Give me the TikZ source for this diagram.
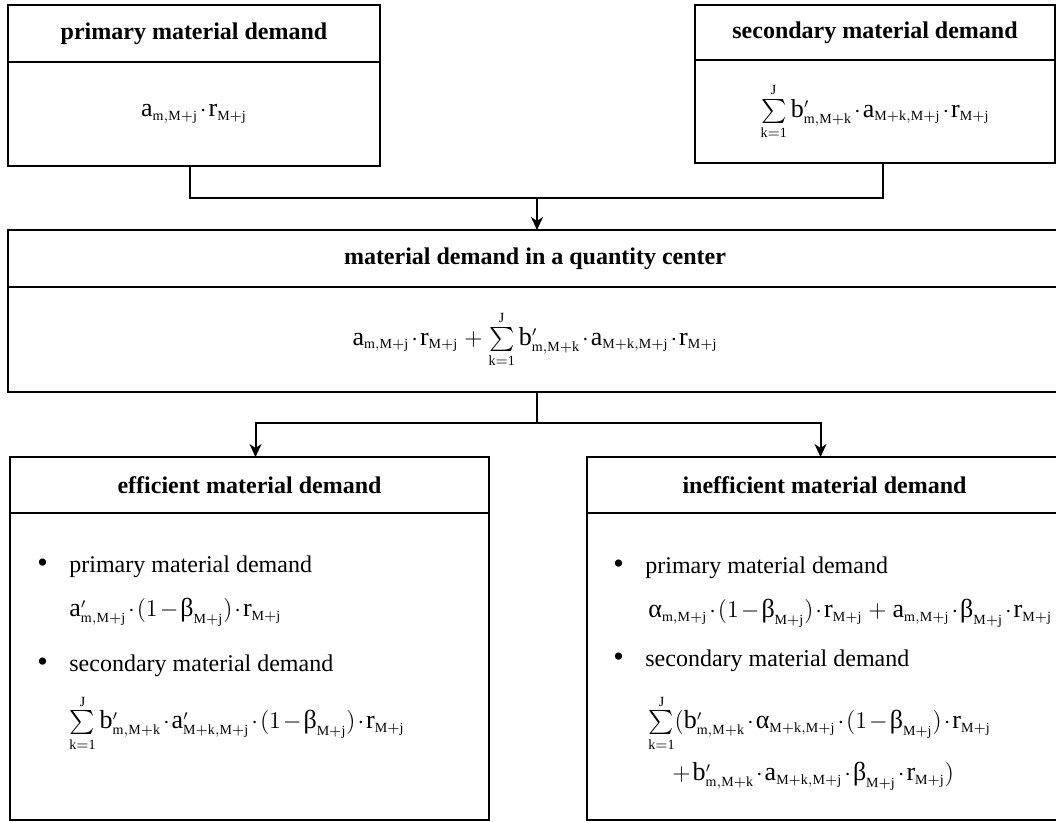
\documentclass[tikz,border=0pt]{standalone}
\usepackage{amsmath}
\usepackage{fontspec}
\setmainfont{Liberation Serif}
\usepackage{tikz}
\usetikzlibrary{positioning,arrows.meta}
\DeclareMathSizes{13}{13}{7}{5}
\newcommand{\Mj}{\mathrm{M+j}}
\newcommand{\mMj}{\mathrm{m,M+j}}
\newcommand{\mMk}{\mathrm{m,M+k}}
\newcommand{\MkMj}{\mathrm{M+k,M+j}}
\newcommand{\galpha}{\text{α}}
\newcommand{\gbeta}{\text{β}}
\newcommand{\sumk}{\sum\limits_{\mathrm{k=1}}^{\mathrm{J}}}
\newcommand{\pls}{\,+\,}
\newcommand{\itm}{\makebox[16pt][l]{\fontsize{15}{15}\selectfont\textbullet}}
\newcommand{\tightmath}{\medmuskip=1.5mu\relax}
\tikzset{
  head/.style={draw,line width=1pt,inner sep=0pt,outer sep=0pt,anchor=north west,font=\fontsize{12}{14}\selectfont\bfseries},
  body/.style={draw,line width=1pt,inner sep=0pt,outer sep=0pt,font=\fontsize{13}{15}\selectfont\tightmath},
  line/.style={anchor=base west,inner sep=0pt,font=\fontsize{12}{14}\selectfont},
  fline/.style={anchor=base west,inner sep=0pt,font=\fontsize{13}{15}\selectfont\tightmath},
  link/.style={line width=1pt},
}
\begin{document}
\begin{tikzpicture}[x=0.5pt,y=-0.5pt,>={Stealth[length=6.5pt,width=6pt,inset=2pt]}]
  \useasboundingbox (0,0) rectangle (1056,822);
  \node[head,minimum width=186pt,minimum height=28.5pt] (hp) at (8,5) {primary material demand};
  \node[body,minimum width=186pt,minimum height=52pt,below=0pt of hp] (bp) {$\mathrm{a}_{\mMj}\cdot\mathrm{r}_{\Mj}$};
  \node[head,minimum width=180pt,minimum height=27.5pt] (hs) at (695,5) {secondary material demand};
  \node[body,minimum width=180pt,minimum height=51.5pt,below=0pt of hs] (bs) {$\sumk\mathrm{b}'_{\mMk}\cdot\mathrm{a}_{\MkMj}\cdot\mathrm{r}_{\Mj}$};
  \node[head,minimum width=527pt,minimum height=28.5pt] (hm) at (8,230) {material demand in a quantity center};
  \node[body,minimum width=527pt,minimum height=52.5pt,below=0pt of hm] (bm) {$\mathrm{a}_{\mMj}\cdot\mathrm{r}_{\Mj}\pls\sumk\mathrm{b}'_{\mMk}\cdot\mathrm{a}_{\MkMj}\cdot\mathrm{r}_{\Mj}$};
  \node[head,minimum width=239.5pt,minimum height=28pt] (he) at (10,457) {efficient material demand};
  \node[body,minimum width=239.5pt,minimum height=153.5pt,below=0pt of he] (be) {};
  \node[head,minimum width=237.5pt,minimum height=28pt] (hi) at (587,457) {inefficient material demand};
  \node[body,minimum width=237.5pt,minimum height=153.5pt,below=0pt of hi] (bi) {};
  \node[line] (e1) at (37,573) {\itm primary material demand};
  \node[fline] (e2) at (69,617) {$\mathrm{a}'_{\mMj}\cdot(1-\gbeta_{\Mj})\cdot\mathrm{r}_{\Mj}$};
  \node[line] (e3) at (37,672) {\itm secondary material demand};
  \node[fline] (e4) at (69,729) {$\sumk\mathrm{b}'_{\mMk}\cdot\mathrm{a}'_{\MkMj}\cdot(1-\gbeta_{\Mj})\cdot\mathrm{r}_{\Mj}$};
  \node[line] (i1) at (613,574) {\itm primary material demand};
  \node[fline] (i2) at (648,618) {$\galpha_{\mMj}\cdot(1-\gbeta_{\Mj})\cdot\mathrm{r}_{\Mj}\pls\mathrm{a}_{\mMj}\cdot\gbeta_{\Mj}\cdot\mathrm{r}_{\Mj}$};
  \node[line] (i3) at (613,667) {\itm secondary material demand};
  \node[fline] (i4) at (648,729) {$\sumk(\mathrm{b}'_{\mMk}\cdot\galpha_{\MkMj}\cdot(1-\gbeta_{\Mj})\cdot\mathrm{r}_{\Mj}$};
  \node[fline] (i5) at (672,781) {$+\:\mathrm{b}'_{\mMk}\cdot\mathrm{a}_{\MkMj}\cdot\gbeta_{\Mj}\cdot\mathrm{r}_{\Mj})$};
  \coordinate (j) at (537,198);
  \coordinate (k) at (537,423);
  \draw[link] ([xshift=-2pt]bp.south) |- (j) -| ([xshift=4pt]bs.south);
  \draw[link,->] (j) -- (j |- hm.north);
  \draw[link] (k |- bm.south) -- (k);
  \draw[link,->] (k) -| ([xshift=3pt]he.north);
  \draw[link,->] (k) -| ([xshift=-2pt]hi.north);
\end{tikzpicture}
\end{document}
